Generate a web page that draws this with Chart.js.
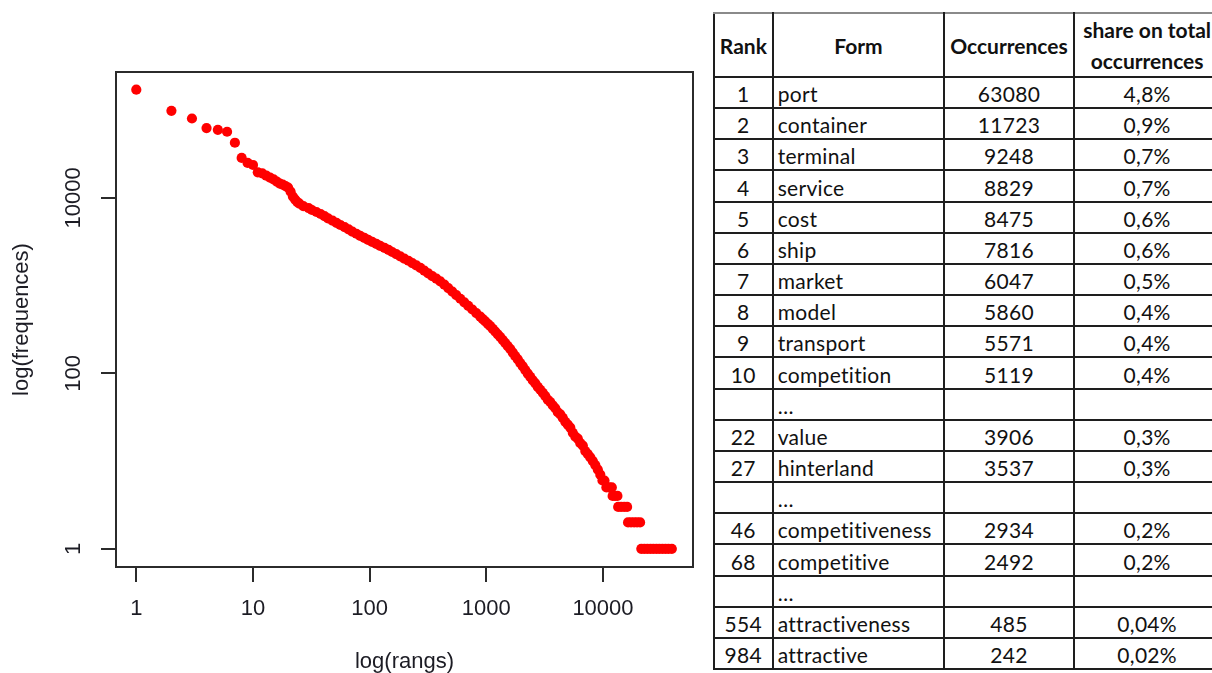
<!DOCTYPE html>
<html>
<head>
<meta charset="utf-8">
<script src="https://cdn.jsdelivr.net/npm/chart.js@4.4.0/dist/chart.umd.min.js"></script>
<style>
html,body{margin:0;padding:0;background:#fff;}
body{width:1212px;height:673px;overflow:hidden;position:relative;}
#chartBox{position:absolute;left:0;top:0;width:700px;height:673px;}
#tblWrap{position:absolute;left:713px;top:12px;width:600px;}
#tbl{border-collapse:collapse;table-layout:fixed;width:506.7px;
  font-family:Lato,"Open Sans",sans-serif;font-size:21px;color:#111;letter-spacing:0.3px;}
#tbl th,#tbl td{border:2px solid #1e1e1e;padding:0 4px;white-space:nowrap;overflow:hidden;}
#tbl th{font-weight:bold;vertical-align:middle;letter-spacing:0;}
#tbl tr.head{height:62.7px;}
#tbl tr.row{height:31.17px;}
#tbl td{vertical-align:bottom;line-height:24px;padding-bottom:1px;}
#tbl td.c{text-align:center;}
#tbl td.l{text-align:left;}
#tbl th.share{line-height:31px;}
#tbl tr.gap td.c4{border-left-color:#cfcfcf;}
#tbl tr.head th{border-top-color:#8a8a8a;}
</style>
</head>
<body>
<div id="chartBox"><canvas id="c"></canvas></div>
<div id="tblWrap">
<table id="tbl">
<colgroup><col style="width:58.7px"><col style="width:171.6px"><col style="width:129.4px"><col style="width:147px"></colgroup>
<thead><tr class="head"><th>Rank</th><th>Form</th><th>Occurrences</th><th class="share">share on total<br>occurrences</th></tr></thead>
<tbody id="tb"></tbody>
</table>
</div>
<script>
// ---- chart data ----
const ranks = [
  1,2,3,4,5,6,7,8,9,10,
  11,12,13,14,15,16,17,18,19,20,21,22,23,24,25,
  27,30,32,35,38,41,44,48,52,56,61,66,71,77,83,90,97,
  105,114,123,134,145,156,169,183,198,215,232,251,272,294,318,344,373,
  403,437,472,511,553,599,648,701,759,821,888,933,980,
  1030,1082,1137,1194,1254,1318,1385,1455,1528,1606,1687,1772,1862,1956,
  2055,2159,2269,2383,2503,2630,2763,2903,3050,3204,3366,3536,3715,3903,
  4101,4308,4526,4755,4995,5248,5513,5792,6085,6393,6716,7056,7413,7788,
  8182,8596,9031,9487,9900,10300,10700,11300,11900,12100,12700,13300,
  13500,14300,15200,16100,16400,17400,18500,19600,20800,
  21300,22600,24000,25500,27000,28700,30400,32300,34300,36400,38900
];
const frequencies = [
  171000,98200,80300,62400,59700,56700,42500,28500,25000,23700,
  19540,19030,17920,17010,16270,15320,14540,14160,13620,13090,11790,10340,9565,8960,8615,
  8070,7658,7269,6896,6545,6178,5832,5507,5197,4908,4634,4374,4129,3898,3680,3493,3315,
  3146,2985,2834,2689,2552,2415,2280,2153,2032,1919,1806,1696,1594,1481,1376,1279,1198,
  1119,1024,937,855,778,708,645,586,534,486,442,415,390,
  367,345,321,299,278,259,239,221,204,189,172,157,144,131,
  120,109,99,91,83,77,70,65,60,55,50,47,43,40,
  36,34,31,28,26,24,21,19,18,16,15,13,12,11,
  10,9,8,7,6,6,5,5,5,4,4,4,
  3,3,3,3,2,2,2,2,2,
  1,1,1,1,1,1,1,1,1,1,1
];
const xTickValues = [1,10,100,1000,10000];
const xTickLabels = ['1','10','100','1000','10000'];
const yTickValues = [1,100,10000];
const yTickLabels = ['1','100','10000'];
const xTitle = 'log(rangs)';
const yTitle = 'log(frequences)';

// ---- table data ----
const tableRanks = ['1','2','3','4','5','6','7','8','9','10','','22','27','','46','68','','554','984'];
const tableForms = ['port','container','terminal','service','cost','ship','market','model','transport','competition','…','value','hinterland','…','competitiveness','competitive','…','attractiveness','attractive'];
const tableOccurrences = ['63080','11723','9248','8829','8475','7816','6047','5860','5571','5119','','3906','3537','','2934','2492','','485','242'];
const tableShares = ['4,8%','0,9%','0,7%','0,7%','0,6%','0,6%','0,5%','0,4%','0,4%','0,4%','','0,3%','0,3%','','0,2%','0,2%','','0,04%','0,02%'];

const tb = document.getElementById('tb');
tableForms.forEach((f,i)=>{
  const tr = document.createElement('tr');
  tr.className = 'row' + (tableRanks[i]==='' ? ' gap' : '');
  const cells = [[tableRanks[i],'c'],[f,'l'],[tableOccurrences[i],'c'],[tableShares[i],'c c4']];
  cells.forEach(([t,cls])=>{const td=document.createElement('td');td.className=cls;td.textContent=t;tr.appendChild(td);});
  tb.appendChild(tr);
});

const FONT = '"Liberation Sans", Arial, sans-serif';
const TXT = '#1c1c24';
const boxPlugin = {
  id:'box',
  afterDraw(chart){
    const {ctx, chartArea:a} = chart;
    ctx.save();
    ctx.strokeStyle = '#2b2b2b';
    ctx.lineWidth = 2;
    ctx.strokeRect(a.left, a.top, a.right-a.left, a.bottom-a.top);
    ctx.restore();
  }
};

new Chart(document.getElementById('c'), {
  type:'scatter',
  data:{datasets:[{
    data: ranks.map((r,i)=>({x:r, y:frequencies[i]})),
    backgroundColor:'#ff0000', borderWidth:0, pointRadius:5.1, pointHoverRadius:5.1
  }]},
  options:{
    responsive:true, maintainAspectRatio:false, animation:false, devicePixelRatio:1,
    layout:{padding:{top:72,right:7,bottom:0,left:0}},
    plugins:{legend:{display:false}, tooltip:{enabled:false}},
    scales:{
      x:{
        type:'logarithmic', bounds:'data', min:0.67, max:59100, position:'bottom',
        afterBuildTicks:s=>{ s.ticks = xTickValues.map(v=>({value:v})); },
        afterFit:s=>{ s.height = 106; },
        border:{display:false},
        grid:{display:true, drawOnChartArea:false, drawTicks:true, tickLength:15, color:'#2b2b2b', lineWidth:2},
        ticks:{autoSkip:false, minRotation:0, maxRotation:0, padding:14, color:TXT,
          font:{family:FONT, size:22}, callback:(v,i)=>xTickLabels[i]},
        title:{display:true, text:xTitle, color:TXT, font:{family:FONT, size:22}, padding:{top:0,bottom:-2}}
      },
      y:{
        type:'logarithmic', bounds:'data', min:0.62, max:272000, position:'left',
        afterBuildTicks:s=>{ s.ticks = yTickValues.map(v=>({value:v})); },
        afterFit:s=>{ s.width = 116; },
        border:{display:false},
        grid:{display:true, drawOnChartArea:false, drawTicks:true, tickLength:15, color:'#2b2b2b', lineWidth:2},
        ticks:{autoSkip:false, minRotation:90, maxRotation:90, crossAlign:'center', padding:-3.6, color:TXT,
          font:{family:FONT, size:22}, callback:(v,i)=>yTickLabels[i]},
        title:{display:true, text:yTitle, color:TXT, font:{family:FONT, size:22}, padding:{top:8.5,bottom:0}}
      }
    }
  },
  plugins:[boxPlugin]
});
</script>
</body>
</html>
